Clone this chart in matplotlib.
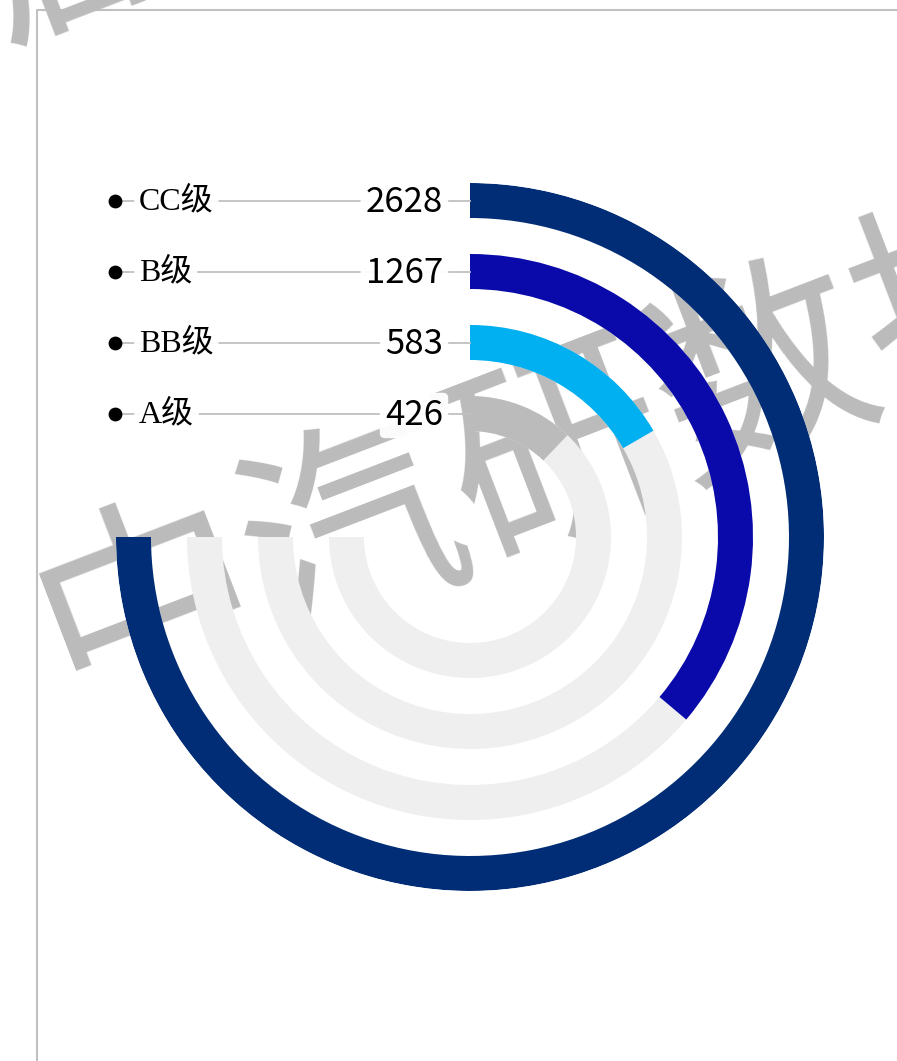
import numpy as np
import matplotlib
matplotlib.use("Agg")
import matplotlib.pyplot as plt

# data (inner ring -> outer ring)
grades = ["A级", "BB级", "B级", "CC级"]
counts = [426, 583, 1267, 2628]
colors = ["#bbbbbb", "#00b0f0", "#0a0aaa", "#012d77"]
track_color = "#efefef"

W, H = 897, 1061
fig = plt.figure(figsize=(W / 100, H / 100), dpi=100)

# background layer: frame + watermark
bg = fig.add_axes([0, 0, 1, 1], zorder=0)
bg.set_xlim(0, W)
bg.set_ylim(H, 0)
bg.axis("off")
bg.plot([37, 37, W], [H, 10, 10], color="#c0c0c0", lw=1.5)
wm = dict(fontsize=158, color="#bbbbbb", rotation=21, rotation_mode="anchor",
          ha="center", va="center", family=["Noto Sans CJK SC"], fontweight="light")
bg.text(560, 455, "中汽研数据", **wm)
bg.text(-380, 110, "中汽研数据", **wm)

# polar radial bars
cx, cy, R = 470, 537, 354
ax = fig.add_axes([(cx - R) / W, (H - cy - R) / H, 2 * R / W, 2 * R / H],
                  projection="polar", zorder=1)
ax.set_theta_zero_location("N")
ax.set_theta_direction(-1)
step = 71.0
ax.set_rorigin(-123.5 / step)
ax.set_ylim(-0.3, R / step - 123.5 / step)
ax.set_axis_off()

span = 1.5 * np.pi
idx = np.arange(len(grades))
angles = np.array(counts) / max(counts) * span
ax.barh(idx, [span] * len(idx), left=0, height=35 / step, color=track_color)
ax.barh(idx, angles, left=0, height=35 / step, color=colors)

# labels on top
ov = fig.add_axes([0, 0, 1, 1], zorder=2)
ov.set_xlim(0, W)
ov.set_ylim(H, 0)
ov.axis("off")
box = dict(boxstyle="round,pad=0.15", fc="white", ec="none", alpha=0.95)
for i, (g, c) in enumerate(zip(grades, counts)):
    px = ax.transData.transform((0, i))
    x, y = ov.transData.inverted().transform(px)
    ov.plot([115, x], [y, y], color="#c0c0c0", lw=1.3, zorder=1)
    ov.scatter([115], [y], s=80, color="black", zorder=3)
    ov.text(139, y + 1, g, fontsize=23, ha="left", va="center", zorder=2,
            family=["Liberation Serif", "Noto Sans CJK SC"], bbox=box)
    ov.text(443, y + 2, str(c), fontsize=25, ha="right", va="center", zorder=2,
            family=["Noto Sans CJK SC"], fontweight="light", bbox=box)

fig.savefig("out.png", dpi=100)
